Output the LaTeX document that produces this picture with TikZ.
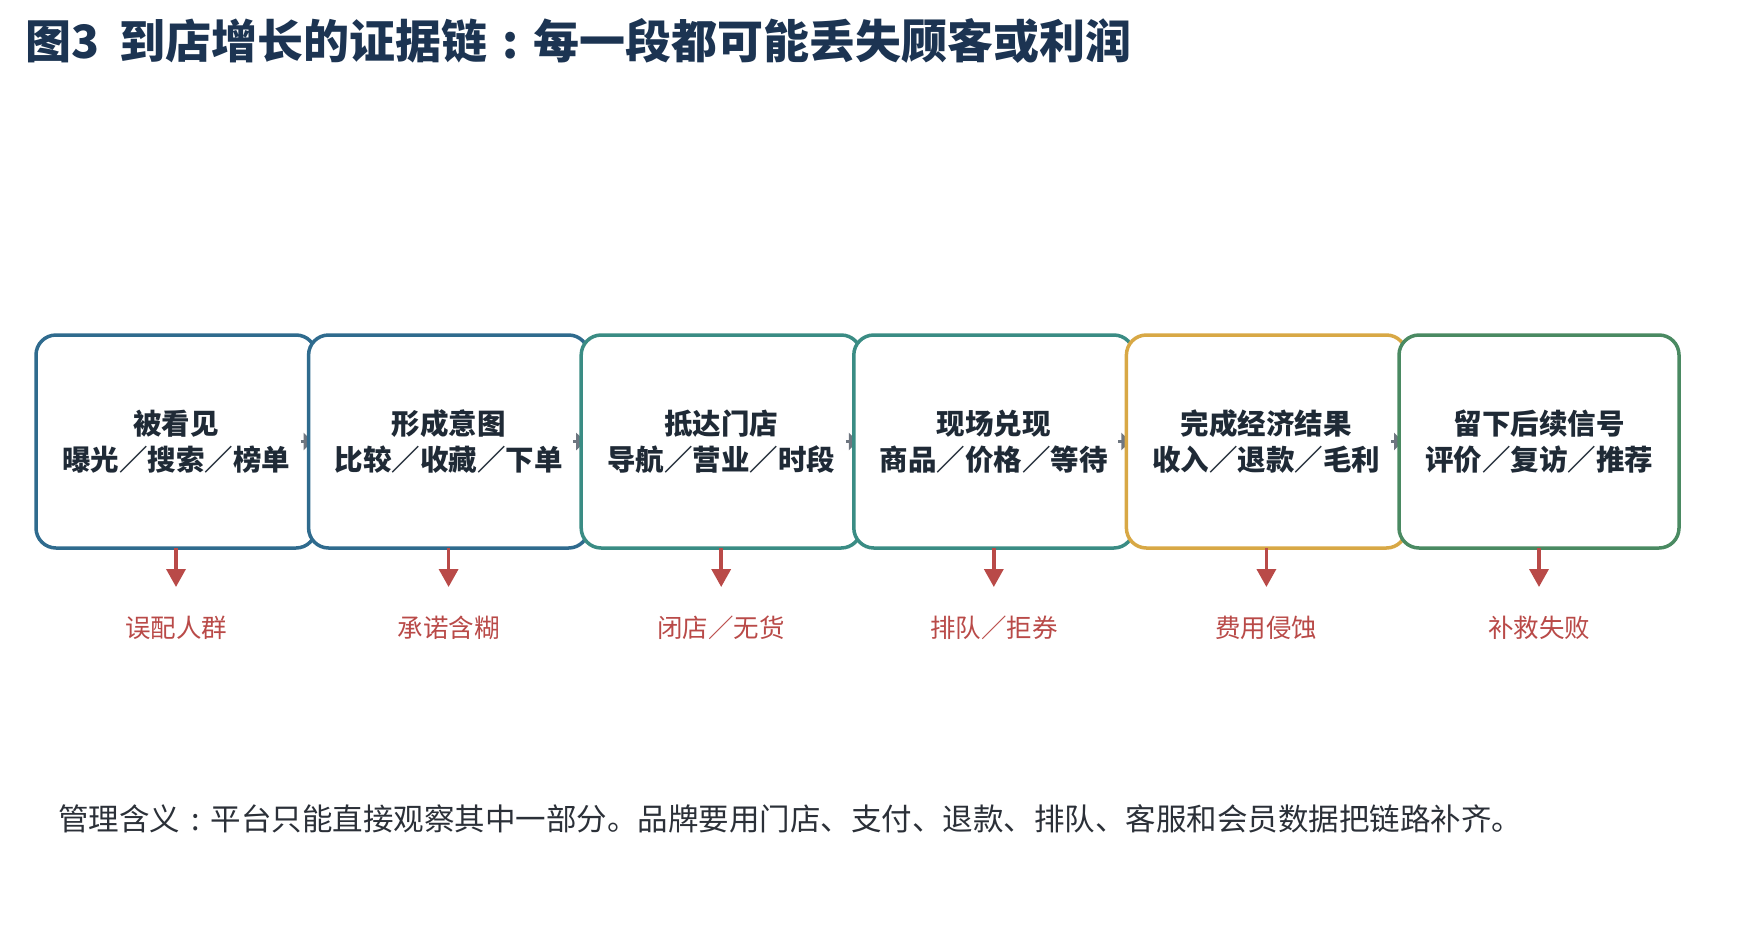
\documentclass[tikz,border=0pt]{standalone}
\usepackage{fontspec}
\setmainfont{Noto Sans CJK SC}
\usetikzlibrary{arrows.meta}
\definecolor{titlec}{HTML}{1C3452}
\definecolor{boxtext}{HTML}{1F2A36}
\definecolor{cblue}{HTML}{2F6B8E}
\definecolor{cteal}{HTML}{3A8C84}
\definecolor{cgold}{HTML}{D8A845}
\definecolor{cgreen}{HTML}{4A8A62}
\definecolor{crisk}{HTML}{B94A48}
\definecolor{cstub}{HTML}{6E7680}
\definecolor{notec}{HTML}{2B3038}
\newcommand{\cjkcolon}{\makebox[1em][c]{:}}
\begin{document}
\begin{tikzpicture}[x=1pt,y=-1pt,
  stepbox/.style={rectangle, rounded corners=20pt, line width=3.5pt, fill=white,
    minimum width=280pt, minimum height=213pt, align=center, inner sep=0pt, outer sep=0pt,
    font=\fontsize{28.5}{36}\selectfont\bfseries, text=boxtext},
  stub/.style={draw=cstub, line width=3pt, -{Triangle[width=17pt,length=9pt]}},
  risk/.style={draw=crisk, line width=3.5pt, -{Triangle[width=19pt,length=18pt]}},
  risklabel/.style={font=\fontsize{25.5}{30}\selectfont, text=crisk, inner sep=0pt},
]
\useasboundingbox[fill=white] (0,0) rectangle (1748,935);

\node[anchor=west, inner sep=0pt, font=\fontsize{46}{54}\selectfont\bfseries, text=titlec] (title) at (25,41)
  {图3\hspace{0.45em}到店增长的证据链\cjkcolon 每一段都可能丢失顾客或利润};

\coordinate (w1) at (36,441.5);
\coordinate (w2) at (308.6,441.5);
\coordinate (w3) at (581.2,441.5);
\coordinate (w4) at (853.8,441.5);
\coordinate (w5) at (1126.4,441.5);
\coordinate (w6) at (1399,441.5);

\node[stepbox, draw=cblue, anchor=west] (b1) at (w1) {被看见\\曝光／搜索／榜单};
\draw[stub] ([xshift=-8pt]w2) -- ([xshift=4pt]w2);
\node[stepbox, draw=cblue, anchor=west] (b2) at (w2) {形成意图\\比较／收藏／下单};
\draw[stub] ([xshift=-8pt]w3) -- ([xshift=4pt]w3);
\node[stepbox, draw=cteal, anchor=west] (b3) at (w3) {抵达门店\\导航／营业／时段};
\draw[stub] ([xshift=-8pt]w4) -- ([xshift=4pt]w4);
\node[stepbox, draw=cteal, anchor=west] (b4) at (w4) {现场兑现\\商品／价格／等待};
\draw[stub] ([xshift=-8pt]w5) -- ([xshift=4pt]w5);
\node[stepbox, draw=cgold, anchor=west] (b5) at (w5) {完成经济结果\\收入／退款／毛利};
\draw[stub] ([xshift=-8pt]w6) -- ([xshift=4pt]w6);
\node[stepbox, draw=cgreen, anchor=west] (b6) at (w6) {留下后续信号\\评价／复访／推荐};

\foreach \i/\t in {1/误配人群, 2/承诺含糊, 3/闭店／无货, 4/排队／拒券, 5/费用侵蚀, 6/补救失败} {
  \node[risklabel] (r\i) at (b\i.south |- 0,628) {\t};
  \draw[risk] (b\i.south) -- (b\i.south |- 0,587);
}

\node[anchor=west, inner sep=0pt, font=\fontsize{30.5}{36}\selectfont, text=notec] (note) at (58,819)
  {管理含义\cjkcolon 平台只能直接观察其中一部分。品牌要用门店、支付、退款、排队、客服和会员数据把链路补齐。};
\end{tikzpicture}
\end{document}
